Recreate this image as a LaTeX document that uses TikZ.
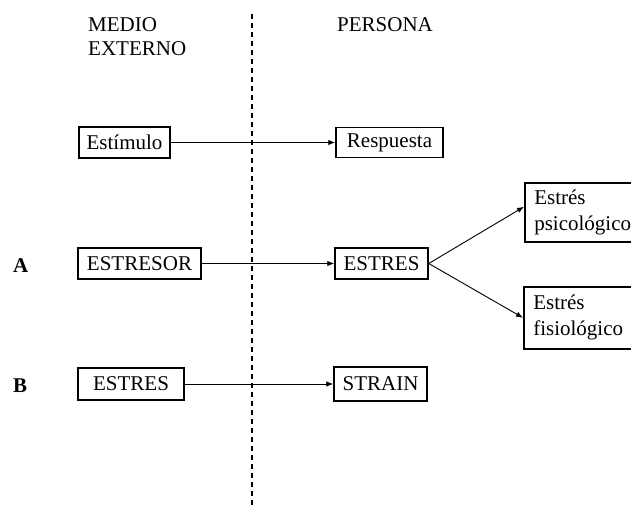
\documentclass[tikz,border=0pt]{standalone}
\usepackage{fontspec}
\setmainfont{Liberation Serif}
\usetikzlibrary{arrows.meta}

\tikzset{
  txt/.style={inner sep=0pt, font=\fontsize{21}{24}\selectfont},
  label/.style={txt, font=\fontsize{21}{24}\selectfont\bfseries},
  box/.style={draw, line width=1.5pt, inner sep=0pt, txt},
  twobox/.style={box, anchor=north west, align=left, text width=98pt,
    font=\fontsize{21}{26}\selectfont},
  conn/.style={line width=0.9pt, -{Latex[length=7pt,width=5.5pt]}},
  divider/.style={line width=1.2pt, dash pattern=on 5pt off 4pt}
}

\begin{document}
\begin{tikzpicture}[x=1pt, y=-1pt]
  \clip (0,0) rectangle (631,507);

  % divider between environment and person
  \coordinate (top) at (252,14);
  \coordinate (bottom) at (252,507);
  \draw[divider] (top) -- (bottom);

  % column headings (base anchor of a two-line node sits on its last line)
  \node[txt, anchor=base west, align=left] (medio) at (88,55) {MEDIO\\EXTERNO};
  \node[txt, anchor=base west] (persona) at (337,31) {PERSONA};

  % row labels
  \node[label, anchor=base west] (la) at (13,272) {A};
  \node[label, anchor=base west] (lb) at (13,392) {B};

  % stimulus -> response
  \node[box, minimum width=91pt, minimum height=31pt] (estimulo) at (124.5,142.5) {Estímulo};
  \node[box, minimum width=107pt, minimum height=30pt] (respuesta) at (389.5,142.5) {Respuesta};

  % row A
  \node[box, minimum width=123pt, minimum height=31pt] (estresor) at (139.5,263.5) {ESTRESOR};
  \node[box, minimum width=93pt, minimum height=31pt] (estresA) at (381.5,263.5) {ESTRES};
  \node[twobox, minimum width=117pt, minimum height=59pt, inner xsep=9pt] (psico) at (524,182) {Estrés\\psicológico};
  \node[twobox, minimum width=117pt, minimum height=62pt, inner xsep=9pt] (fisio) at (523,286) {Estrés\\fisiológico};

  % row B
  \node[box, minimum width=106pt, minimum height=32pt] (estresB) at (131,384) {ESTRES};
  \node[box, minimum width=93pt, minimum height=34pt] (strain) at (380.5,384) {STRAIN};

  % connectors
  \draw[conn] (estimulo.east) -- (respuesta.west);
  \draw[conn] (estresor.east) -- (estresA.west);
  \draw[conn] (estresA.east) -- ([yshift=5.5pt]psico.west);
  \draw[conn] (estresA.east) -- (fisio.west);
  \draw[conn] (estresB.east) -- (strain.west);
\end{tikzpicture}
\end{document}
